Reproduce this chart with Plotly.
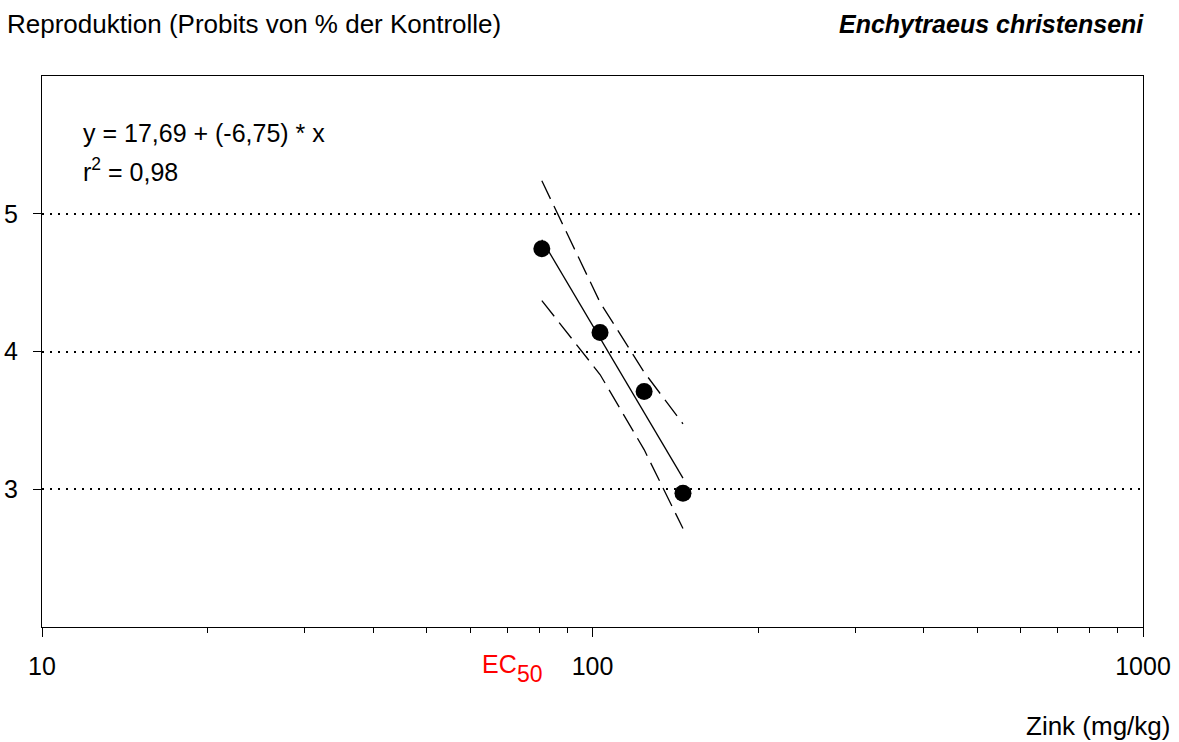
import numpy as np
import plotly.graph_objects as go

# Zinc concentrations (mg/kg) and reproduction in probits
zink = [80.9, 103.2, 124.1, 146.0]
probit = [4.746, 4.138, 3.710, 2.971]

# 95 % confidence band around the regression line
band_upper = [5.239, 4.357, 3.850, 3.475]
band_lower = [4.370, 3.833, 3.288, 2.715]

# Regression: probit = a + b * log10(concentration)
a, b = 17.69, -6.75
r2 = 0.98

x_ticks = [10, 100, 1000]
y_ticks = [3, 4, 5]
minor_ticks = [m * d for d in (10, 100) for m in range(2, 10)]

FONT = "Liberation Sans, Arial, sans-serif"
FS = 25

fit_x = np.array([min(zink), max(zink)])
fit_y = a + b * np.log10(fit_x)
ec50 = 10 ** ((5 - a) / b)

fig = go.Figure()

fig.add_trace(go.Scatter(x=zink, y=band_upper, mode="lines",
                         line=dict(color="black", width=1.3, dash="20px,8px"),
                         hoverinfo="skip"))
fig.add_trace(go.Scatter(x=zink, y=band_lower, mode="lines",
                         line=dict(color="black", width=1.3, dash="20px,8px"),
                         hoverinfo="skip"))
fig.add_trace(go.Scatter(x=fit_x, y=fit_y, mode="lines",
                         line=dict(color="black", width=1.3)))
fig.add_trace(go.Scatter(x=zink, y=probit, mode="markers",
                         marker=dict(color="black", size=17, line=dict(width=0))))

# EC50 marker line from the 50 % level (probit 5) down to the axis
fig.add_shape(type="line", xref="x", yref="y",
              x0=np.log10(ec50), x1=np.log10(ec50), y0=5, y1=2,
              line=dict(color="red", width=1.5, dash="18px,6px"))

fig.update_layout(
    width=1179, height=742,
    margin=dict(l=42, r=36, t=76, b=115, autoexpand=False),
    paper_bgcolor="white", plot_bgcolor="white",
    showlegend=False,
    font=dict(family=FONT, size=FS, color="black"),
)

fig.update_xaxes(
    type="log", range=[1, 3], automargin=False,
    tickmode="array", tickvals=x_ticks, ticktext=[str(v) for v in x_ticks],
    ticks="outside", ticklen=9, tickwidth=1, tickcolor="black",
    ticklabelstandoff=8,
    minor=dict(tickmode="array", tickvals=minor_ticks, ticks="outside",
               ticklen=5, tickwidth=1, tickcolor="black", showgrid=False),
    showline=True, linecolor="black", linewidth=1, mirror=True,
    showgrid=False, zeroline=False,
)
fig.update_yaxes(
    range=[2, 6], automargin=False,
    tickmode="array", tickvals=y_ticks, ticktext=[str(v) for v in y_ticks],
    ticks="outside", ticklen=8, tickwidth=1, tickcolor="black",
    ticklabelstandoff=10,
    showline=True, linecolor="black", linewidth=1, mirror=True,
    showgrid=True, gridcolor="black", gridwidth=1.5, griddash="2px,6px",
    zeroline=False,
)

PW, PH = 1101, 551


def px(xp):
    return (xp - 42) / PW


def py(yp):
    return (627 - yp) / PH


ann = []
ann.append(dict(text="Reproduktion (Probits von % der Kontrolle)",
                font=dict(size=26),
                xref="paper", yref="paper", x=px(5), y=py(24),
                xanchor="left", yanchor="middle", showarrow=False))
ann.append(dict(text="<b><i>Enchytraeus christenseni</i></b>",
                xref="paper", yref="paper", x=px(1146), y=py(24),
                xanchor="right", yanchor="middle", showarrow=False))
ann.append(dict(text=f"y = {a:.2f} + ({b:.2f}) * x".replace(".", ","),
                xref="paper", yref="paper", x=px(81), y=py(133),
                xanchor="left", yanchor="middle", showarrow=False))
ann.append(dict(text=f"r<sup>2</sup> = {r2:.2f}".replace(".", ","),
                xref="paper", yref="paper", x=px(81), y=py(170),
                xanchor="left", yanchor="middle", showarrow=False))
ann.append(dict(text="Zink (mg/kg)", font=dict(size=26),
                xref="paper", yref="paper", x=px(1172), y=py(726),
                xanchor="right", yanchor="middle", showarrow=False))
ann.append(dict(text="EC", font=dict(color="red", size=FS),
                xref="x", yref="paper", x=np.log10(ec50), y=py(664),
                xanchor="right", yanchor="middle", xshift=-7, showarrow=False))
ann.append(dict(text="50", font=dict(color="red", size=23),
                xref="x", yref="paper", x=np.log10(ec50), y=py(674),
                xanchor="left", yanchor="middle", xshift=-11, showarrow=False))
fig.update_layout(annotations=ann)

fig.write_html("out.html")
